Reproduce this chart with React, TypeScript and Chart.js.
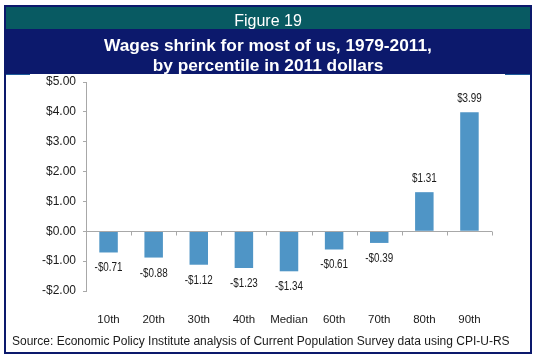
import React, { useEffect, useRef } from "react";
import { Chart, registerables } from "chart.js";

Chart.register(...registerables);

const categories = ["10th", "20th", "30th", "40th", "Median", "60th", "70th", "80th", "90th"];
const wageChange = [-0.71, -0.88, -1.12, -1.23, -1.34, -0.61, -0.39, 1.31, 3.99];
const yMin = -2;
const yMax = 5;
const yStep = 1;

const figureLabel = "Figure 19";
const titleLines = ["Wages shrink for most of us, 1979-2011,", "by percentile in 2011 dollars"];
const sourceText = "Source: Economic Policy Institute analysis of Current Population Survey data using CPI-U-RS";

const BAR_COLOR = "#4F95C6";
const AXIS_COLOR = "#A8A8A8";
const TEAL = "#085A62";
const NAVY = "#0C196C";

const fmtMoney = (v: number) => (v < 0 ? "-$" : "$") + Math.abs(v).toFixed(2);

const dataLabelPlugin = {
  id: "dataLabels",
  afterDatasetsDraw(chart: any) {
    const ctx = chart.ctx;
    const meta = chart.getDatasetMeta(0);
    meta.data.forEach((el: any, i: number) => {
      const v = wageChange[i];
      const y = v >= 0 ? el.y - 10 : el.y + 19;
      ctx.save();
      ctx.font = "12px Arial, 'Liberation Sans', sans-serif";
      ctx.fillStyle = "#1a1a1a";
      ctx.textAlign = "center";
      ctx.textBaseline = "alphabetic";
      ctx.translate(el.x, y);
      ctx.scale(0.82, 1);
      ctx.fillText(fmtMoney(v), 0, 0);
      ctx.restore();
    });
  },
};

const zeroTicksPlugin = {
  id: "zeroTicks",
  afterDraw(chart: any) {
    const ctx = chart.ctx;
    const y = chart.scales.y;
    const y0 = Math.round(y.getPixelForValue(0)) + 0.5;
    const n = categories.length;
    const left = chart.chartArea.left;
    const right = chart.chartArea.right;
    ctx.save();
    ctx.strokeStyle = AXIS_COLOR;
    ctx.lineWidth = 1;
    ctx.beginPath();
    ctx.moveTo(left, y0);
    ctx.lineTo(right, y0);
    for (let i = 1; i <= n; i++) {
      const px = Math.round(left + ((right - left) * i) / n) + 0.5;
      ctx.moveTo(px, y0);
      ctx.lineTo(px, y0 + 4);
    }
    ctx.stroke();
    ctx.restore();
  },
};

export default function App() {
  const canvasRef = useRef<HTMLCanvasElement | null>(null);

  useEffect(() => {
    if (!canvasRef.current) return;
    const chart = new Chart(canvasRef.current, {
      type: "bar",
      data: {
        labels: categories,
        datasets: [
          {
            data: wageChange,
            backgroundColor: BAR_COLOR,
            borderWidth: 0,
            barPercentage: 0.41,
            categoryPercentage: 1,
          },
        ],
      },
      options: {
        responsive: false,
        animation: false,
        layout: { padding: { top: 82, right: 45, left: 0, bottom: 0 } },
        plugins: {
          legend: { display: false },
          tooltip: { enabled: false },
          title: { display: false },
        },
        scales: {
          x: {
            grid: { display: false, drawTicks: false },
            border: { display: false },
            ticks: {
              color: "#1a1a1a",
              font: { family: "Arial, 'Liberation Sans', sans-serif", size: 11.5 },
              padding: 22,
              maxRotation: 0,
              autoSkip: false,
            },
            afterFit: (s: any) => {
              s.height = 71;
            },
          },
          y: {
            min: yMin,
            max: yMax,
            grid: {
              drawOnChartArea: false,
              drawTicks: true,
              tickLength: 3,
              tickColor: AXIS_COLOR,
            },
            border: { display: true, color: AXIS_COLOR, width: 1 },
            ticks: {
              stepSize: yStep,
              color: "#1a1a1a",
              font: { family: "Arial, 'Liberation Sans', sans-serif", size: 12 },
              padding: 7,
              callback: (v: any) => fmtMoney(Number(v)),
            },
            afterFit: (s: any) => {
              s.width = 86;
            },
          },
        },
      },
      plugins: [dataLabelPlugin, zeroTicksPlugin],
    });
    return () => chart.destroy();
  }, []);

  const font = "Arial, 'Liberation Sans', Helvetica, sans-serif";

  return (
    <div
      style={{
        position: "fixed",
        left: 0,
        top: 0,
        width: 537,
        height: 362,
        background: "#fff",
        overflow: "hidden",
        fontFamily: font,
      }}
    >
      <canvas
        ref={canvasRef}
        width={537}
        height={362}
        style={{ position: "absolute", left: 0, top: 0, width: 537, height: 362 }}
      />
      <div
        style={{
          position: "absolute",
          left: 4,
          top: 5,
          width: 528,
          height: 24,
          background: TEAL,
          color: "#fff",
        }}
      >
        <div
          style={{
            position: "absolute",
            left: 0,
            width: 528,
            top: 0,
            height: 24,
            lineHeight: "31px",
            textAlign: "center",
            fontSize: 16,
            whiteSpace: "nowrap",
          }}
        >
          {figureLabel}
        </div>
      </div>
      <div
        style={{
          position: "absolute",
          left: 4,
          top: 29,
          width: 528,
          height: 45,
          background: NAVY,
          color: "#fff",
        }}
      >
        <div
          style={{
            position: "absolute",
            left: 0,
            width: 528,
            top: 6,
            textAlign: "center",
            fontSize: 17.3,
            fontWeight: "bold",
            lineHeight: "20px",
            whiteSpace: "nowrap",
          }}
        >
          {titleLines.map((t, i) => (
            <div key={i}>{t}</div>
          ))}
        </div>
      </div>
      <div style={{ position: "absolute", left: 4, top: 74, width: 26, height: 1, background: "#1E5C9A" }} />
      <div style={{ position: "absolute", left: 505, top: 74, width: 27, height: 1, background: "#1E5C9A" }} />
      <div
        style={{
          position: "absolute",
          left: 12,
          top: 334,
          fontSize: 12,
          lineHeight: "14px",
          color: "#1a1a1a",
          whiteSpace: "nowrap",
        }}
      >
        {sourceText}
      </div>
      <div
        style={{
          position: "absolute",
          left: 4,
          top: 5,
          width: 528,
          height: 349,
          boxSizing: "border-box",
          border: `2px solid ${NAVY}`,
          pointerEvents: "none",
        }}
      />
    </div>
  );
}
